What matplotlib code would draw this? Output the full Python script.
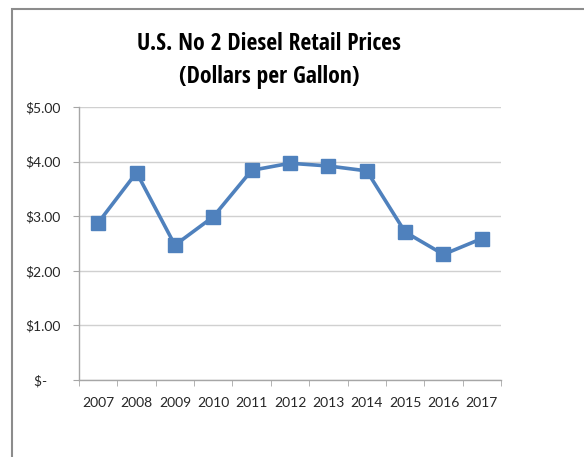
import matplotlib.pyplot as plt
import matplotlib.patches as patches
from matplotlib import font_manager
from matplotlib.ticker import FixedLocator

years = ["2007", "2008", "2009", "2010", "2011", "2012", "2013", "2014", "2015", "2016", "2017"]
prices = [2.88, 3.80, 2.47, 2.99, 3.84, 3.97, 3.92, 3.83, 2.71, 2.30, 2.59]
y_ticks = [0, 1, 2, 3, 4, 5]
y_labels = ["$-    ", "$1.00", "$2.00", "$3.00", "$4.00", "$5.00"]

BLUE = "#4F81BD"

def pick_title_font():
	# a condensed bold face for the title, Lato otherwise
	names = {f.name for f in font_manager.fontManager.ttflist}
	for name in ["Liberation Sans Narrow", "DejaVu Sans Condensed", "Open Sans Condensed", "Roboto Condensed"]:
		if name in names:
			return name
	return "Lato"

def main():
	title_font = [pick_title_font(), "DejaVu Sans"]
	tick_font = ["Lato", "DejaVu Sans"]

	fig = plt.figure(figsize=(5.84, 4.57), dpi=100)
	fig.patch.set_facecolor("white")

	# outer chart frame, runs off the right and bottom edges
	frame = patches.Rectangle((12/584, -0.1), 1.2, 1 - 9/457 + 0.1, transform=fig.transFigure,
		fill=False, edgecolor="#8C8C8C", linewidth=1.5)
	fig.patches.append(frame)

	ax = fig.add_axes([79/584, 1 - 380/457, 422/584, 273/457])
	x = list(range(len(years)))
	ax.plot(x, prices, color=BLUE, linewidth=2.6, marker="s", markersize=10,
		markerfacecolor=BLUE, markeredgecolor=BLUE, zorder=3)

	ax.set_xlim(-0.5, len(years) - 0.5)
	ax.set_ylim(0, 5)

	ax.set_yticks(y_ticks)
	ax.set_yticklabels(y_labels, fontsize=10, fontfamily=tick_font, color="#262626")
	ax.set_xticks(x)
	ax.set_xticklabels(years, fontsize=10, fontfamily=tick_font, color="#262626")
	ax.xaxis.set_minor_locator(FixedLocator([i - 0.5 for i in range(len(years) + 1)]))

	ax.tick_params(axis="x", which="major", length=0, pad=12)
	ax.tick_params(axis="x", which="minor", length=4, color="#A6A6A6", direction="out")
	ax.tick_params(axis="y", length=4, color="#A6A6A6", direction="out", pad=9)

	ax.grid(axis="y", color="#D0D0D0", linewidth=1)
	ax.set_axisbelow(True)
	for side in ["top", "right"]:
		ax.spines[side].set_visible(False)
	for side in ["left", "bottom"]:
		ax.spines[side].set_color("#A6A6A6")
		ax.spines[side].set_linewidth(1)

	fig.text(269/584, 1 - 44/457, "U.S. No 2 Diesel Retail Prices", ha="center", va="center",
		fontweight="bold", fontsize=17, fontfamily=title_font)
	fig.text(269/584, 1 - 77/457, "(Dollars per Gallon)", ha="center", va="center",
		fontweight="bold", fontsize=17, fontfamily=title_font)

	fig.savefig("out.png", dpi=100)


if __name__=="__main__":
	main()
